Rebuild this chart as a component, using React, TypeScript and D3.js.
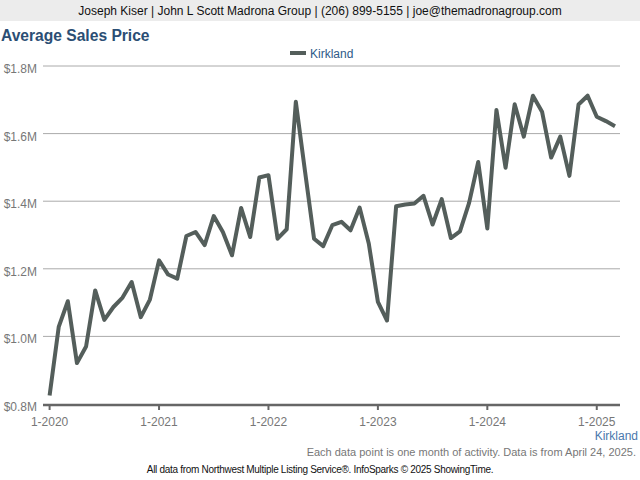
import React from "react";
import * as d3 from "d3";

const months: string[] = [];
for (let y = 2020; y <= 2025; y++) for (let m = 1; m <= 12; m++) if (!(y === 2025 && m > 3)) months.push(`${m}-${y}`);

const values: number[] = [
  0.825, 1.028, 1.104, 0.921, 0.97, 1.136, 1.049, 1.087, 1.115, 1.161, 1.057, 1.109,
  1.225, 1.183, 1.171, 1.297, 1.309, 1.27, 1.356, 1.309, 1.24, 1.38, 1.294, 1.47,
  1.477, 1.289, 1.317, 1.694, 1.49, 1.289, 1.267, 1.329, 1.339, 1.314, 1.381, 1.275,
  1.102, 1.047, 1.385, 1.39, 1.393, 1.416, 1.331, 1.406, 1.291, 1.311, 1.395, 1.516,
  1.319, 1.67, 1.499, 1.687, 1.591, 1.712, 1.665, 1.529, 1.591, 1.475, 1.686, 1.712,
  1.65, 1.637, 1.622,
];

const yTicks = [0.8, 1.0, 1.2, 1.4, 1.6, 1.8];
const xTickLabels = ["1-2020", "1-2021", "1-2022", "1-2023", "1-2024", "1-2025"];
const seriesName = "Kirkland";

const W = 640, H = 480;
const FONT = "Arial, 'Liberation Sans', sans-serif";

export default function App() {
  const x = d3.scaleLinear().domain([0, 62]).range([49.6, 615]);
  const y = d3.scaleLinear().domain([0.8, 1.8]).range([404, 66]);
  const line = d3.line<number>().x((_, i) => x(i)).y((d) => y(d));
  const xTickIdx = xTickLabels.map((l) => months.indexOf(l));

  return (
    <svg width={W} height={H} style={{ position: "absolute", left: 0, top: 0, background: "#fff" }} fontFamily={FONT}>
      <rect x={0} y={0} width={W} height={21} fill="#ececec" />
      <text x={320} y={15} textAnchor="middle" fontSize={12} fill="#111">
        Joseph Kiser | John L Scott Madrona Group | (206) 899-5155 | joe@themadronagroup.com
      </text>
      <text x={1} y={40.5} fontSize={15.6} fontWeight="bold" fill="#2b4e74">Average Sales Price</text>
      <line x1={290} x2={306} y1={53} y2={53} stroke="#545e5b" strokeWidth={4} />
      <text x={310} y={57.5} fontSize={12} fill="#2f5a88">{seriesName}</text>

      {yTicks.map((t) => (
        <g key={t}>
          {t !== 0.8 && <line x1={43} x2={620} y1={y(t)} y2={y(t)} stroke="#aaa" strokeWidth={1} />}
          <text x={37} y={y(t) + 7} textAnchor="end" fontSize={12} fill="#777">
            {`$${t.toFixed(1)}M`}
          </text>
        </g>
      ))}
      <line x1={43} x2={620} y1={405} y2={405} stroke="#666" strokeWidth={2.5} />
      {xTickIdx.map((i, k) => (
        <g key={k}>
          <line x1={x(i)} x2={x(i)} y1={405} y2={410} stroke="#666" strokeWidth={2} />
          <text x={x(i)} y={426} textAnchor="middle" fontSize={12} fill="#777">{xTickLabels[k]}</text>
        </g>
      ))}
      <path d={line(values) || ""} fill="none" stroke="#545e5b" strokeWidth={4} strokeLinejoin="round" />
      <text x={638} y={440} textAnchor="end" fontSize={12} fill="#4a78ad">{seriesName}</text>
      <text x={636} y={456} textAnchor="end" fontSize={11} fill="#777">
        Each data point is one month of activity. Data is from April 24, 2025.
      </text>
      <text x={320} y={473} textAnchor="middle" fontSize={10} fill="#111" letterSpacing={-0.3}>
        All data from Northwest Multiple Listing Service®. InfoSparks © 2025 ShowingTime.
      </text>
    </svg>
  );
}
